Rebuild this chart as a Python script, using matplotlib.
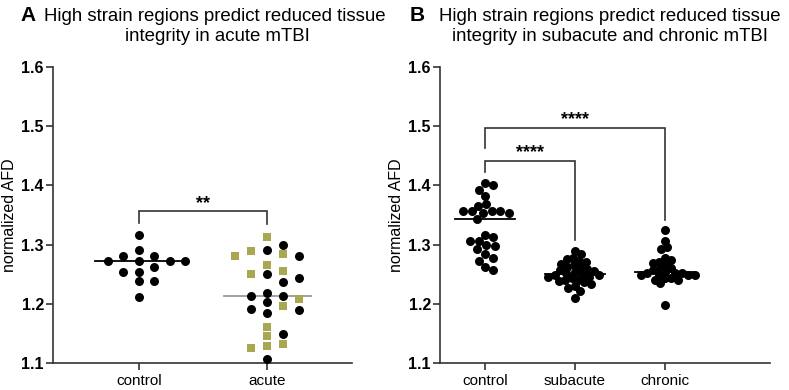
import numpy as np
import matplotlib
matplotlib.use("Agg")
import matplotlib.pyplot as plt

plt.rcParams['font.family'] = ['Liberation Sans', 'DejaVu Sans']

# ---------------- data ----------------
groups_A = ["control", "acute"]
control_A = [1.317, 1.291, 1.281, 1.281, 1.272, 1.272, 1.272, 1.272, 1.263,
             1.254, 1.253, 1.238, 1.238, 1.212]
acute_circles = [1.300, 1.291, 1.281, 1.250, 1.243, 1.236, 1.219, 1.213, 1.213,
                 1.203, 1.192, 1.190, 1.184, 1.149, 1.107]
acute_squares = [1.313, 1.290, 1.284, 1.281, 1.266, 1.256, 1.250, 1.208, 1.196,
                 1.161, 1.146, 1.132, 1.128, 1.126]

groups_B = ["control", "subacute", "chronic"]
control_B = [1.404, 1.401, 1.393, 1.382, 1.368, 1.366, 1.357, 1.356, 1.356, 1.356,
             1.353, 1.353, 1.344, 1.316, 1.313, 1.306, 1.306, 1.299, 1.298, 1.292,
             1.284, 1.278, 1.273, 1.262, 1.257]
subacute_B = [1.289, 1.284, 1.278, 1.275, 1.272, 1.270, 1.268, 1.265, 1.263, 1.261,
              1.259, 1.257, 1.255, 1.253, 1.252, 1.250, 1.249, 1.248, 1.246, 1.245,
              1.243, 1.241, 1.240, 1.238, 1.236, 1.233, 1.230, 1.227, 1.222, 1.210]
chronic_B = [1.325, 1.306, 1.296, 1.292, 1.277, 1.274, 1.271, 1.269, 1.266, 1.260,
             1.260, 1.257, 1.254, 1.252, 1.252, 1.252, 1.249, 1.249, 1.249, 1.249,
             1.243, 1.243, 1.241, 1.241, 1.235, 1.198]

yticks = [1.1, 1.2, 1.3, 1.4, 1.5, 1.6]
ylabel = "normalized AFD"
title_A = ["High strain regions predict reduced tissue", "integrity in acute mTBI"]
title_B = ["High strain regions predict reduced tissue",
           "integrity in subacute and chronic mTBI"]
# brackets: (x1, x2, y_top, y_left_end, y_right_end, label, label_y)
brackets_A = [(0, 1, 1.357, 1.337, 1.334, "**", 1.370)]
brackets_B = [(0, 1, 1.442, 1.422, 1.308, "****", 1.456),
              (0, 2, 1.497, 1.463, 1.342, "****", 1.511)]

OLIVE = "#a9a74f"
AXC = "#333333"

W, H = 789, 390
fig = plt.figure(figsize=(W / 100, H / 100), dpi=100)


def px_axes(l, r, b, t):
    return fig.add_axes([l / W, 1 - b / H, (r - l) / W, (b - t) / H])


def style(ax, groups, xlim):
    ax.set_ylim(1.1, 1.6)
    ax.set_xlim(*xlim)
    ax.set_yticks(yticks)
    ax.set_yticklabels([f"{v:.1f}" for v in yticks], fontweight='bold', fontsize=11.5)
    ax.set_xticks(range(len(groups)))
    ax.set_xticklabels(groups, fontsize=11)
    for s in ["top", "right"]:
        ax.spines[s].set_visible(False)
    for s in ["left", "bottom"]:
        ax.spines[s].set_color(AXC)
        ax.spines[s].set_linewidth(1.2)
    ax.tick_params(axis='both', colors=AXC, width=1.2, length=5, labelcolor='black')
    ax.tick_params(axis='y', pad=1.5)
    ax.tick_params(axis='x', pad=3)
    ax.set_ylabel(ylabel, fontsize=11.5, labelpad=3)
    for sp in ax.spines.values():
        sp.set_clip_on(False)


def swarm(ax, center, values, diam, grid=None):
    vals = np.asarray(values, float)
    pts = ax.transData.transform(np.column_stack([np.full(len(vals), center), vals]))
    ys = pts[:, 1]
    x0 = ax.transData.transform((0, 0))[0]
    x1 = ax.transData.transform((1, 0))[0]
    ppu = x1 - x0
    if grid:
        cands = [0.0]
        for k in range(1, 15):
            cands += [k * grid, -k * grid]
    else:
        steps = np.arange(0, 80, 0.5)
        cands = []
        for s in steps:
            cands += [s, -s] if s > 0 else [0.0]
    order = np.argsort(-vals, kind='stable')
    placed = []
    offs = np.zeros(len(vals))
    for i in order:
        y = ys[i]
        for c in cands:
            ok = True
            for (px, py) in placed:
                if grid:
                    if abs(px - c) < grid / 2 and abs(py - y) < diam:
                        ok = False
                        break
                else:
                    if (px - c) ** 2 + (py - y) ** 2 < diam ** 2:
                        ok = False
                        break
            if ok:
                offs[i] = c
                placed.append((c, y))
                break
    return center + offs / ppu


def brackets(ax, items):
    for (a, b, yt, yl, yr, lab, ly) in items:
        ax.plot([a, a, b, b], [yl, yt, yt, yr], color=AXC, lw=1.2, clip_on=False,
                solid_joinstyle='miter')
        ax.text((a + b) / 2, ly, lab, ha='center', va='center', fontsize=13,
                fontweight='bold')


CIRC = 42
SQ = 28

# ---------------- panel A ----------------
axA = px_axes(53, 352, 363, 67)
style(axA, groups_A, (-0.67, 1.66))
xs = swarm(axA, 0, control_A, 8.5, grid=15.5)
axA.scatter(xs, control_A, s=CIRC, color='black', marker='o', lw=0, zorder=3, clip_on=False)
axA.plot([-0.34, 0.34], [np.median(control_A)] * 2, color='black', lw=1.3, zorder=4)

acute_all = acute_circles + acute_squares
xs = swarm(axA, 1, acute_all, 8.5, grid=16)
n1 = len(acute_circles)
axA.scatter(xs[:n1], acute_circles, s=CIRC, color='black', marker='o', lw=0, zorder=3, clip_on=False)
axA.scatter(xs[n1:], acute_squares, s=SQ, color=OLIVE, marker='s', lw=0, zorder=3, clip_on=False)
axA.plot([1 - 0.34, 1 + 0.34], [np.median(acute_all)] * 2, color='#999999', lw=1.3, zorder=2)
brackets(axA, brackets_A)

# ---------------- panel B ----------------
axB = px_axes(440, 770, 363, 67)
style(axB, groups_B, (-0.5, 3.17))
for k, (vals, d) in enumerate([(control_B, 8.4), (subacute_B, 6.6), (chronic_B, 6.4)]):
    xs = swarm(axB, k, vals, d)
    axB.scatter(xs, vals, s=CIRC, color='black', marker='o', lw=0, zorder=3, clip_on=False)
    axB.plot([k - 0.33, k + 0.33], [np.median(vals)] * 2, color='black', lw=1.3, zorder=4)
brackets(axB, brackets_B)

# ---------------- titles ----------------
fig.text(20 / W, 1 - 21 / H, "A", fontsize=15, fontweight='bold', va='baseline', ha='left')
fig.text(215 / W, 1 - 21 / H, title_A[0], fontsize=13.4, va='baseline', ha='center')
fig.text(217 / W, 1 - 41 / H, title_A[1], fontsize=13.4, va='baseline', ha='center')
fig.text(410 / W, 1 - 21 / H, "B", fontsize=15, fontweight='bold', va='baseline', ha='left')
fig.text(610 / W, 1 - 21 / H, title_B[0], fontsize=13.4, va='baseline', ha='center')
fig.text(610 / W, 1 - 41 / H, title_B[1], fontsize=13.4, va='baseline', ha='center')

fig.savefig("out.png", dpi=100)
